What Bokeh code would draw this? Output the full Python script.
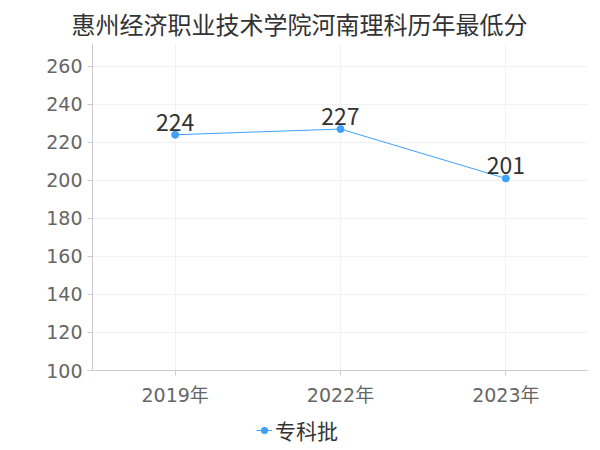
from bokeh.plotting import figure
from bokeh.layouts import column
from bokeh.models import Range1d, FactorRange, LegendItem, Legend, ColumnDataSource, LabelSet
from bokeh.core.properties import value
from bokeh.embed import file_html
from bokeh.resources import INLINE

title = "惠州经济职业技术学院河南理科历年最低分"
years = ["2019年", "2022年", "2023年"]
scores = [224, 227, 201]
series_name = "专科批"
y_ticks = [100, 120, 140, 160, 180, 200, 220, 240, 260]

color = "#3fa1ff"
font_num = "DejaVu Sans, Noto Sans CJK SC"
font_cjk = "Noto Sans CJK SC"

src = ColumnDataSource(dict(x=years, y=scores, t=[str(s) for s in scores]))

p = figure(frame_width=496, frame_height=327, x_range=FactorRange(*years, range_padding=0),
           y_range=Range1d(100, 272), output_backend="svg", toolbar_location=None,
           min_border_left=92, min_border_right=4, min_border_top=35, min_border_bottom=0)

p.title.text = title
p.title.align = "left"
p.title.offset = -21
p.title.standoff = 6
p.title.text_font = font_cjk
p.title.text_font_size = "24px"
p.title.text_font_style = "normal"
p.title.text_color = "#333333"

p.outline_line_color = None
p.background_fill_color = "white"

ln = p.line("x", "y", source=src, line_color=color, line_width=1)
sc = p.scatter("x", "y", source=src, size=7, fill_color=color, line_color=color)

labels = LabelSet(x="x", y="y", text="t", source=src, text_align="center", text_baseline="alphabetic",
                  y_offset=4, text_font_size="23px", text_color="#333333", text_font=value(font_cjk))
p.add_layout(labels)

p.yaxis.ticker = y_ticks
p.yaxis.major_label_text_font_size = "19px"
p.yaxis.major_label_text_color = "#666666"
p.yaxis.major_label_text_font = font_num
p.yaxis.axis_line_color = "#cccccc"
p.yaxis.major_tick_line_color = "#cccccc"
p.yaxis.major_tick_in = 0
p.yaxis.major_tick_out = 5
p.yaxis.minor_tick_line_color = None

p.xaxis.major_label_text_font_size = "19px"
p.xaxis.major_label_text_color = "#666666"
p.xaxis.major_label_text_font = font_num
p.xaxis.axis_line_color = "#cccccc"
p.xaxis.major_tick_line_color = "#cccccc"
p.xaxis.major_tick_in = 0
p.xaxis.major_tick_out = 5
p.xaxis.major_label_standoff = 8

p.xgrid.grid_line_color = "#f2f2f2"
p.ygrid.grid_line_color = "#f2f2f2"

# legend strip below the chart (same series, drawn outside its visible range)
p2 = figure(width=592, height=44, x_range=FactorRange(*years), y_range=Range1d(0, 1),
            output_backend="svg", toolbar_location=None,
            min_border_left=0, min_border_right=0, min_border_top=0, min_border_bottom=0)
p2.axis.visible = False
p2.grid.visible = False
p2.outline_line_color = None
ln2 = p2.line("x", "y", source=src, line_color=color, line_width=1)
sc2 = p2.scatter("x", "y", source=src, size=7, fill_color=color, line_color=color)

legend = Legend(items=[LegendItem(label=series_name, renderers=[ln2, sc2])],
                orientation="horizontal", location=(164, 7),
                label_text_font=font_cjk, label_text_font_size="21px", label_text_color="#333333",
                border_line_color=None, background_fill_alpha=0, glyph_width=16, label_standoff=3,
                margin=0, padding=2)
p2.add_layout(legend)

layout = column(p, p2, spacing=0)
open("out.html", "w").write(file_html(layout, INLINE))
